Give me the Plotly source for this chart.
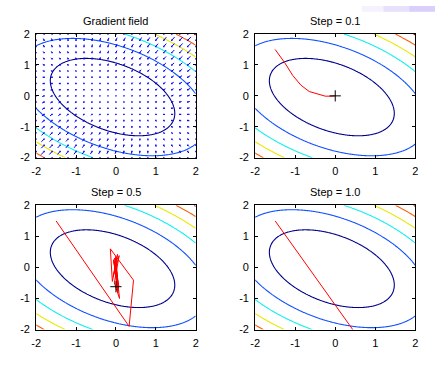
import numpy as np
import plotly.graph_objects as go

# ---- data ----
# quadratic surface f = A*dx^2 + B*dx*dy + C*dy^2 (dx = x - CX, dy = y - CY)
COEF_A = 1.0
COEF_B = 1.05
COEF_C = 1.55
CENTER_X = -0.085
CENTER_Y = -0.04

LEVELS = [2.0, 4.6, 7.2, 9.8, 12.4, 15.0]
LEVEL_COLORS = ["#00008C", "#1050FF", "#10EEEE", "#E8E800", "#FF5A00", "#B00000"]

TICKS = [-2, -1, 0, 1, 2]
TITLES = ["Gradient field", "Step = 0.1", "Step = 0.5", "Step = 1.0"]

QUIVER_STEP = 0.2

PATH_01_X = [-1.5, -1.38, -1.265, -1.06, -0.86, -0.65, -0.45, -0.25, -0.08, 0.0]
PATH_01_Y = [1.5, 1.3, 1.08, 0.66, 0.35, 0.14, 0.07, -0.01, -0.01, 0.0]

PATH_05_X = [-1.5, 0.33, 0.44, -0.14, -0.09, 0.04, -0.07, 0.08, -0.04, 0.09, -0.02,
             0.05, -0.06, 0.06, -0.01, 0.04, -0.05, 0.07, -0.03, 0.05, -0.02,
             0.03, 0.01, 0.02, 0.0]
PATH_05_Y = [1.5, -1.9, -0.41, 0.6, -0.45, 0.42, -0.3, 0.38, -0.5, -1.0, 0.3,
             -0.8, 0.25, -0.7, 0.35, -0.55, 0.2, -0.6, 0.3, -0.75, 0.1,
             -0.5, 0.15, -0.65, -0.62]

PATH_10_X = [-1.5, 0.99]
PATH_10_Y = [1.5, -3.0]

END_01 = ([0.0], [0.0])
END_05 = ([0.0], [-0.62])

# ---- styles ----
FONT = "Liberation Sans, Arial, Helvetica, sans-serif"
X_DOMAINS = [[0.0724, 0.4436], [0.5817, 0.9543]]
Y_DOMAINS = [[0.5788, 0.9220], [0.1013, 0.4462]]
QUIVER_FILL = 0.75


def surface(x, y):
    dx = x - CENTER_X
    dy = y - CENTER_Y
    return COEF_A * dx**2 + COEF_B * dx * dy + COEF_C * dy**2


def gradient(x, y):
    dx = x - CENTER_X
    dy = y - CENTER_Y
    return 2 * COEF_A * dx + COEF_B * dy, COEF_B * dx + 2 * COEF_C * dy


gx = np.linspace(-2, 2, 161)
gy = np.linspace(-2, 2, 161)
GX, GY = np.meshgrid(gx, gy)
Z = surface(GX, GY)

n = len(LEVELS)
cscale = [[i / (n - 1), c] for i, c in enumerate(LEVEL_COLORS)]

fig = go.Figure()

axes_ids = [("x", "y"), ("x2", "y2"), ("x3", "y3"), ("x4", "y4")]

for xa, ya in axes_ids:
    fig.add_trace(go.Contour(
        x=gx, y=gy, z=Z, xaxis=xa, yaxis=ya,
        contours=dict(coloring="lines", start=LEVELS[0], end=LEVELS[-1],
                      size=LEVELS[1] - LEVELS[0]),
        colorscale=cscale, zmin=LEVELS[0], zmax=LEVELS[-1], zauto=False,
        line=dict(width=1.1), showscale=False, hoverinfo="skip",
    ))

# quiver (gradient field) in panel 1
qv = np.arange(-2, 2 + 1e-9, QUIVER_STEP)
QX, QY = np.meshgrid(qv, qv)
U, V = gradient(QX, QY)
mag = np.sqrt((U / QUIVER_STEP) ** 2 + (V / QUIVER_STEP) ** 2)
scale = QUIVER_FILL / mag.max()
U = U * scale
V = V * scale
sx, sy = [], []
for x0, y0, u, v in zip(QX.ravel(), QY.ravel(), U.ravel(), V.ravel()):
    sx += [x0, x0 + u, None]
    sy += [y0, y0 + v, None]
fig.add_trace(go.Scatter(x=sx, y=sy, mode="lines", xaxis="x", yaxis="y",
                         line=dict(color="#0000FF", width=1), hoverinfo="skip"))
fig.add_trace(go.Scatter(x=QX.ravel(), y=QY.ravel(), mode="markers", xaxis="x", yaxis="y",
                         marker=dict(color="#0000FF", size=1.4, symbol="square", line=dict(width=0)),
                         hoverinfo="skip", cliponaxis=True))

# descent paths
for (px, py), (xa, ya) in zip([(PATH_01_X, PATH_01_Y), (PATH_05_X, PATH_05_Y), (PATH_10_X, PATH_10_Y)],
                              axes_ids[1:]):
    fig.add_trace(go.Scatter(x=px, y=py, mode="lines", xaxis=xa, yaxis=ya,
                             line=dict(color="#FF0000", width=1), hoverinfo="skip"))

for (ex, ey), (xa, ya) in zip([END_01, END_05], axes_ids[1:3]):
    fig.add_trace(go.Scatter(x=ex, y=ey, mode="markers", xaxis=xa, yaxis=ya,
                             marker=dict(symbol="cross-thin", size=8, color="black",
                                         line=dict(color="black", width=1)),
                             hoverinfo="skip"))

layout = dict(
    width=438, height=372, autosize=False,
    margin=dict(l=0, r=0, t=0, b=0),
    paper_bgcolor="white", plot_bgcolor="white",
    showlegend=False,
    font=dict(family=FONT, size=11, color="black"),
)

for i, (xa, ya) in enumerate(axes_ids):
    r, c = divmod(i, 2)
    xkey = "xaxis" if i == 0 else f"xaxis{i + 1}"
    ykey = "yaxis" if i == 0 else f"yaxis{i + 1}"
    common = dict(range=[-2, 2], tickvals=TICKS, ticktext=[str(t) for t in TICKS],
                  ticks="inside", ticklen=3, tickcolor="black", tickwidth=1,
                  showline=True, linecolor="black", linewidth=1, mirror="allticks",
                  showgrid=False, zeroline=False, ticklabelstandoff=3,
                  tickfont=dict(family=FONT, size=11, color="black"), fixedrange=True)
    layout[xkey] = dict(domain=X_DOMAINS[c], anchor=ya, **common)
    layout[ykey] = dict(domain=Y_DOMAINS[r], anchor=xa, **common)

annotations = []
for i, t in enumerate(TITLES):
    r, c = divmod(i, 2)
    xc = sum(X_DOMAINS[c]) / 2
    ytop = Y_DOMAINS[r][1]
    annotations.append(dict(text=t, x=xc, y=ytop + 13.5 / 372, xref="paper", yref="paper",
                            xanchor="center", yanchor="middle", showarrow=False,
                            font=dict(family=FONT, size=11, color="black")))
layout["annotations"] = annotations

# faint lavender strip at the top right corner of the capture
shapes = []
strip = [(0.83, 0.88, "rgba(225,215,250,0.35)"), (0.88, 0.94, "rgba(215,200,250,0.55)"),
         (0.94, 1.0, "rgba(205,190,250,0.75)")]
for x0, x1, col in strip:
    shapes.append(dict(type="rect", xref="paper", yref="paper", x0=x0, x1=x1,
                       y0=1 - 6 / 372, y1=1, fillcolor=col, line=dict(width=0), layer="below"))
layout["shapes"] = shapes

fig.update_layout(**layout)
fig.write_html("out.html", config={"displayModeBar": False, "responsive": False},
               post_script="document.body.style.margin='0';document.body.style.overflow='hidden';")
